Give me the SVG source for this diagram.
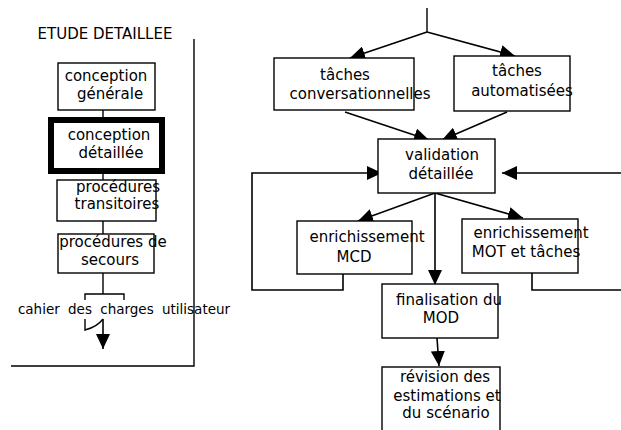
<svg xmlns="http://www.w3.org/2000/svg" width="621" height="430" viewBox="0 0 621 430">
<style>
  text { font-family: "DejaVu Sans", "Liberation Sans", sans-serif; font-size: 15px; fill: #000; text-anchor: middle; }
  .box { fill: #fff; stroke: #000; stroke-width: 1.4; }
  .thick { fill: #fff; stroke: #000; stroke-width: 6; }
  .ln { fill: none; stroke: #000; stroke-width: 1.4; }
  .ar { fill: none; stroke: #000; stroke-width: 1.6; marker-end: url(#ah); }
</style>
<defs>
  <marker id="ah" markerUnits="userSpaceOnUse" markerWidth="16" markerHeight="14" refX="15" refY="7" orient="auto">
    <path d="M0,0 L15,7 L0,14 Z" fill="#000"/>
  </marker>
</defs>
<rect width="621" height="430" fill="#fff"/>

<g id="connectors">
  <path class="ln" d="M194,39 V366 H11"/>
  <path class="ln" d="M103,110 V120"/>
  <path class="ln" d="M103,171 V180"/>
  <path class="ln" d="M103,221 V234"/>
  <path class="ln" d="M103,273 V294"/>
  <path class="ln" d="M85,300 V294 H124 V300"/>
  <path class="ln" d="M85,319 V330 Q97,327 103,319"/>
  <path class="ar" d="M103,319 V349"/>
  <path class="ln" d="M427,8 V32"/>
  <path class="ar" d="M427,32 L350,58"/>
  <path class="ar" d="M427,32 L515,56"/>
  <path class="ar" d="M345,112 L429,140"/>
  <path class="ar" d="M507,112 L442,140"/>
  <path class="ar" d="M435,193 L358,221"/>
  <path class="ar" d="M435,193 L523,218"/>
  <path class="ar" d="M435,193 V285"/>
  <path class="ar" d="M437,338 L439,366"/>
  <path class="ar" d="M343,274 V290 H252 V173 H382"/>
  <path class="ar" d="M532,273 V290 H621 M621,173 H502"/>
</g>

<g id="title">
  <text x="105" y="39">ETUDE DETAILLEE</text>
</g>

<g id="conception-generale">
  <rect class="box" x="58" y="63" width="97" height="47"/>
  <text x="106" y="81">conception</text>
  <text x="110" y="99">générale</text>
</g>

<g id="conception-detaillee">
  <rect class="thick" x="51" y="120" width="111" height="51"/>
  <text x="109" y="140">conception</text>
  <text x="111" y="158">détaillée</text>
</g>

<g id="procedures-transitoires">
  <rect class="box" x="57" y="180" width="99" height="41"/>
  <text x="118" y="192">procédures</text>
  <text x="117" y="209">transitoires</text>
</g>

<g id="procedures-secours">
  <rect class="box" x="58" y="234" width="96" height="39"/>
  <text x="113" y="247">procédures de</text>
  <text x="110" y="265">secours</text>
</g>

<g id="cahier">
  <text x="124" y="314" style="font-size:13.5px;word-spacing:4px">cahier des charges utilisateur</text>
</g>

<g id="taches-conversationnelles">
  <rect class="box" x="274" y="58" width="140" height="52"/>
  <text x="345" y="80">tâches</text>
  <text x="360" y="99">conversationnelles</text>
</g>

<g id="taches-automatisees">
  <rect class="box" x="454" y="56" width="116" height="55"/>
  <text x="517" y="76">tâches</text>
  <text x="522" y="96">automatisées</text>
</g>

<g id="validation-detaillee">
  <rect class="box" x="378" y="139" width="117" height="54"/>
  <text x="442" y="160">validation</text>
  <text x="441" y="179">détaillée</text>
</g>

<g id="enrichissement-mcd">
  <rect class="box" x="297" y="221" width="115" height="53"/>
  <text x="367" y="242">enrichissement</text>
  <text x="354" y="262">MCD</text>
</g>

<g id="enrichissement-mot">
  <rect class="box" x="462" y="219" width="116" height="54"/>
  <text x="531" y="238">enrichissement</text>
  <text x="526" y="257">MOT et tâches</text>
</g>

<g id="finalisation-mod">
  <rect class="box" x="382" y="284" width="116" height="54"/>
  <text x="449" y="305">finalisation du</text>
  <text x="441" y="323">MOD</text>
</g>

<g id="revision">
  <rect class="box" x="382" y="367" width="118" height="70"/>
  <text x="445" y="382">révision des</text>
  <text x="447" y="401">estimations et</text>
  <text x="446" y="418">du scénario</text>
</g>
</svg>
